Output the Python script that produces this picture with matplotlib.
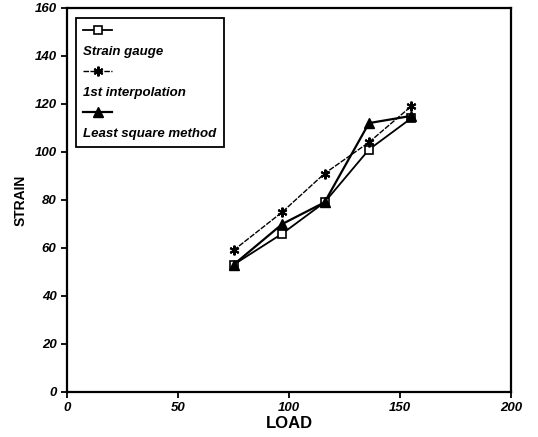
import matplotlib
matplotlib.use("Agg")
import matplotlib.pyplot as plt
from matplotlib.lines import Line2D

plt.rcParams['font.family'] = ['Liberation Sans', 'DejaVu Sans']

# values
load = [75, 97, 116, 136, 155]
strain_gauge = [53, 66, 79, 101, 114]
first_interp = [59, 75, 91, 104, 119]
least_square = [53, 70, 79, 112, 115]

labels = ['Strain gauge', '1st interpolation', 'Least square method']

fig = plt.figure(figsize=(5.38, 4.37), dpi=100)
ax = fig.add_axes([0.1245, 0.103, 0.8255, 0.879])

l1, = ax.plot(load, strain_gauge, color='black', lw=1.3, marker='s', ms=5.5,
              mfc='white', mec='black', mew=1.2)
l2, = ax.plot(load, first_interp, color='black', lw=1.0, ls=(0, (4, 1)),
              marker=(6, 2, 0), ms=7, mew=1.5)
l3, = ax.plot(load, least_square, color='black', lw=1.6, marker='^', ms=7,
              mfc='black', mec='black')

ax.set_xlim(0, 200)
ax.set_ylim(0, 160)
ax.set_xticks([0, 50, 100, 150, 200])
ax.set_yticks(range(0, 161, 20))

for s in ax.spines.values():
    s.set_linewidth(1.6)
ax.tick_params(direction='out', length=4, width=1.3, labelsize=9.5)
for t in ax.get_xticklabels() + ax.get_yticklabels():
    t.set_fontweight('bold')
    t.set_fontstyle('italic')

ax.set_xlabel('LOAD', fontsize=12, fontweight='bold', labelpad=1)
ax.set_ylabel('STRAIN', fontsize=10, fontweight='bold', labelpad=5)

# legend: each marker sample sits above its label
blank = Line2D([], [], ls='none')
handles = [l1, blank, l2, blank, l3, blank]
leg_labels = ['', labels[0], '', labels[1], '', labels[2]]
leg = ax.legend(handles, leg_labels, loc='upper left', bbox_to_anchor=(0.005, 0.99),
                handlelength=2.2, handletextpad=-2.2, labelspacing=0.62,
                borderpad=0.55, fancybox=False, edgecolor='black', framealpha=1,
                prop={'weight': 'bold', 'style': 'italic', 'size': 9.5})
leg.get_frame().set_linewidth(1.3)

fig.savefig('out.png', dpi=100)
